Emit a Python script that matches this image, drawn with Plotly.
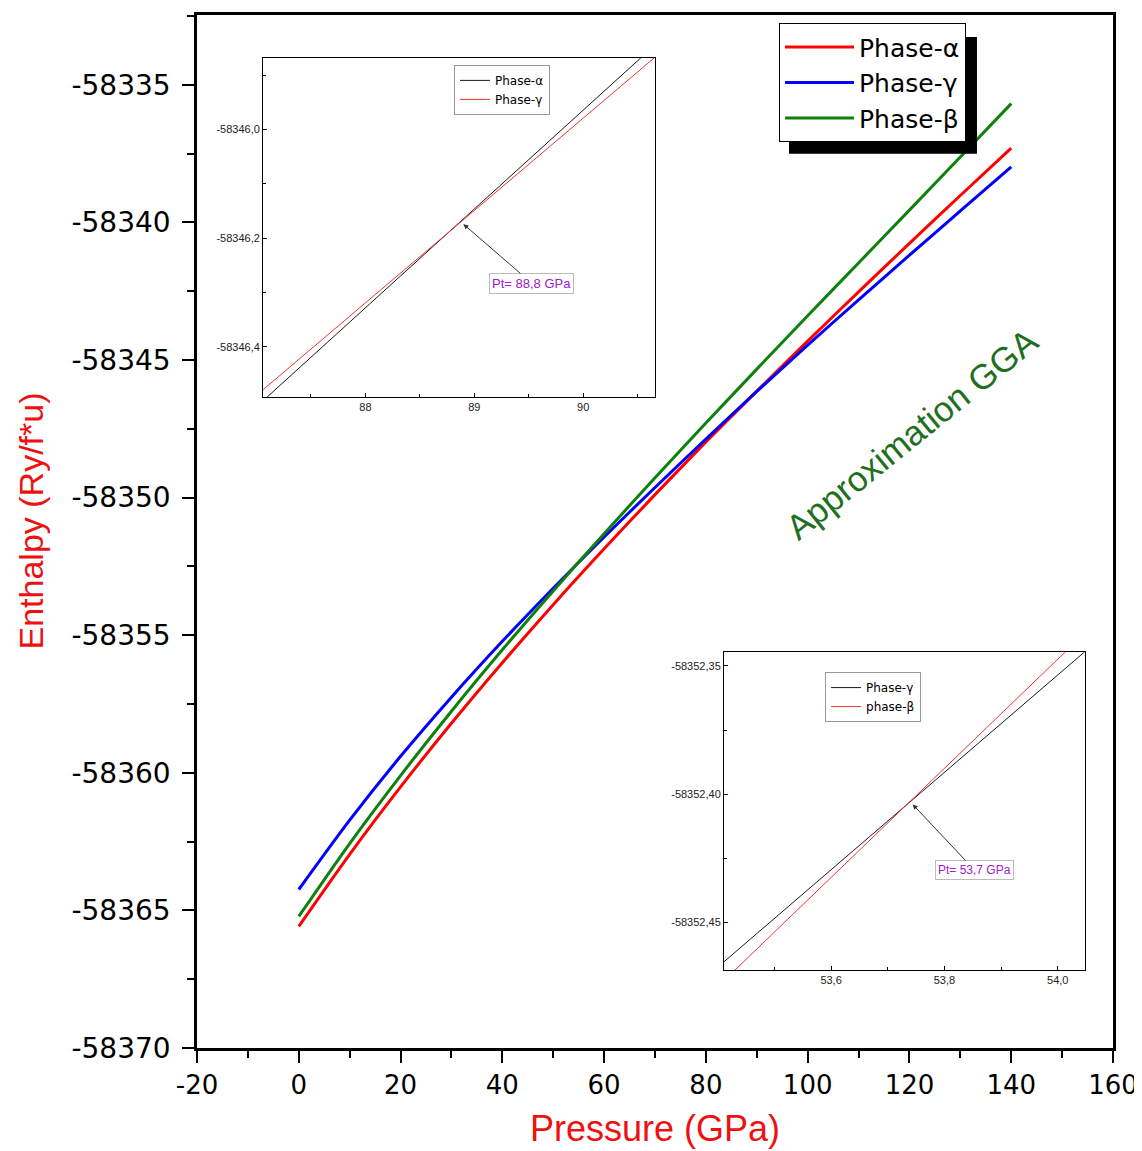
import plotly.graph_objects as go

# ---------------- data ----------------
pressure = [0, 10, 20, 30, 40, 50, 60, 70, 80, 90, 100, 110, 120, 130, 140]
h_alpha = [-58365.58, -58362.96, -58360.51, -58358.20, -58356.00, -58353.89, -58351.86,
           -58349.89, -58347.98, -58346.13, -58344.31, -58342.52, -58340.76, -58339.02, -58337.30]
h_gamma = [-58364.24, -58361.72, -58359.40, -58357.25, -58355.22, -58353.29, -58351.43,
           -58349.63, -58347.87, -58346.14, -58344.46, -58342.81, -58341.19, -58339.58, -58337.98]
h_beta = [-58365.22, -58362.57, -58360.10, -58357.76, -58355.53, -58353.39, -58351.31,
          -58349.28, -58347.29, -58345.33, -58343.39, -58341.47, -58339.55, -58337.62, -58335.68]

# inset 1 : alpha / gamma crossing
p_in1 = [87.0, 87.5, 88.0, 88.5, 89.0, 89.5, 90.0, 90.5, 90.7]
h_in1_alpha = [-58346.510, -58346.419, -58346.328, -58346.237, -58346.146,
               -58346.055, -58345.964, -58345.873, -58345.837]
h_in1_gamma = [-58346.489, -58346.404, -58346.319, -58346.234, -58346.149,
               -58346.064, -58345.979, -58345.894, -58345.860]

# inset 2 : gamma / beta crossing
p_in2 = [53.40, 53.50, 53.60, 53.70, 53.80, 53.90, 54.00, 54.05]
h_in2_gamma = [-58352.4675, -58352.4485, -58352.4295, -58352.4105,
               -58352.3915, -58352.3725, -58352.3535, -58352.3440]
h_in2_beta = [-58352.4751, -58352.4538, -58352.4325, -58352.4112,
              -58352.3899, -58352.3686, -58352.3473, -58352.3367]

x_ticks = [-20, 0, 20, 40, 60, 80, 100, 120, 140, 160]
y_ticks = [-58370, -58365, -58360, -58355, -58350, -58345, -58340, -58335]
in1_xticks = [88, 89, 90]
in1_xtext = ["88", "89", "90"]
in1_yticks = [-58346.4, -58346.2, -58346.0]
in1_ytext = ["-58346,4", "-58346,2", "-58346,0"]
in2_xticks = [53.6, 53.8, 54.0]
in2_xtext = ["53,6", "53,8", "54,0"]
in2_yticks = [-58352.45, -58352.40, -58352.35]
in2_ytext = ["-58352,45", "-58352,40", "-58352,35"]

FONT = "Arial, Liberation Sans, sans-serif"
WIDE = "DejaVu Sans, Arial, sans-serif"
RED, BLUE, GREEN = "#ff0000", "#0000ff", "#0d800d"

fig = go.Figure()
for name, ys, col in [("Phase-α", h_alpha, RED), ("Phase-γ", h_gamma, BLUE), ("Phase-β", h_beta, GREEN)]:
    fig.add_trace(go.Scatter(x=pressure, y=ys, mode="lines", name=name,
                             line=dict(color=col, width=3, shape="spline", smoothing=0.8),
                             xaxis="x", yaxis="y", legend="legend"))

fig.add_trace(go.Scatter(x=p_in1, y=h_in1_alpha, mode="lines", name="Phase-α",
                         line=dict(color="#1a1a1a", width=1), xaxis="x2", yaxis="y2", legend="legend2"))
fig.add_trace(go.Scatter(x=p_in1, y=h_in1_gamma, mode="lines", name="Phase-γ",
                         line=dict(color="#ee3333", width=1), xaxis="x2", yaxis="y2", legend="legend2"))
fig.add_trace(go.Scatter(x=p_in2, y=h_in2_gamma, mode="lines", name="Phase-γ",
                         line=dict(color="#1a1a1a", width=1), xaxis="x3", yaxis="y3", legend="legend3"))
fig.add_trace(go.Scatter(x=p_in2, y=h_in2_beta, mode="lines", name="phase-β",
                         line=dict(color="#ee3333", width=1), xaxis="x3", yaxis="y3", legend="legend3"))

main_ax = dict(showgrid=False, zeroline=False, showline=True, linecolor="black", linewidth=2.5,
               mirror=True, ticks="outside", ticklen=12, tickwidth=2, tickcolor="black")
inset_ax = dict(showgrid=False, zeroline=False, showline=True, linecolor="black", linewidth=1,
                mirror=True, ticks="inside", ticklen=4, tickwidth=1, tickcolor="black",
                tickfont=dict(family=FONT, size=11, color="#222222"))

fig.update_layout(
    width=1134, height=1143,
    margin=dict(l=189, r=29, t=4, b=103, pad=0),
    paper_bgcolor="white", plot_bgcolor="white",
    font=dict(family=FONT),
    xaxis=dict(main_ax, range=[-20, 160], tickvals=x_ticks, ticktext=[str(v) for v in x_ticks],
               tickfont=dict(family=WIDE, size=26, color="black"),
               minor=dict(dtick=10, tick0=0, ticks="outside", ticklen=7, tickwidth=2, tickcolor="black"),
               domain=[0, 1], anchor="y"),
    yaxis=dict(main_ax, range=[-58370, -58332.46], tickvals=y_ticks, ticktext=[str(v) for v in y_ticks],
               tickfont=dict(family=WIDE, size=28, color="black"), ticklabelstandoff=6,
               minor=dict(dtick=2.5, tick0=-58370, ticks="outside", ticklen=7, tickwidth=2, tickcolor="black"),
               domain=[0, 1], anchor="x"),
    xaxis2=dict(inset_ax, range=[87.06, 90.66], tickvals=in1_xticks, ticktext=in1_xtext,
                minor=dict(dtick=0.5, tick0=87.5, ticks="inside", ticklen=3, tickwidth=1, tickcolor="black"),
                domain=[0.0721, 0.5], anchor="y2"),
    yaxis2=dict(inset_ax, range=[-58346.492, -58345.868], tickvals=in1_yticks, ticktext=in1_ytext,
                minor=dict(dtick=0.1, tick0=-58346.5, ticks="inside", ticklen=3, tickwidth=1, tickcolor="black"),
                domain=[0.6303, 0.9585], anchor="x2"),
    xaxis3=dict(inset_ax, range=[53.411, 54.048], tickvals=in2_xticks, ticktext=in2_xtext,
                minor=dict(dtick=0.1, tick0=53.5, ticks="inside", ticklen=3, tickwidth=1, tickcolor="black"),
                domain=[0.5753, 0.9694], anchor="y3"),
    yaxis3=dict(inset_ax, range=[-58352.4687, -58352.3446], tickvals=in2_yticks, ticktext=in2_ytext,
                minor=dict(dtick=0.025, tick0=-58352.475, ticks="inside", ticklen=3, tickwidth=1, tickcolor="black"),
                domain=[0.0753, 0.3832], anchor="x3"),
    legend=dict(x=0.6354, y=0.992, xanchor="left", yanchor="top", bgcolor="white",
                bordercolor="black", borderwidth=1, itemwidth=69, tracegroupgap=0,
                font=dict(family=WIDE, size=25, color="black")),
    legend2=dict(x=0.2806, y=0.9517, xanchor="left", yanchor="top", bgcolor="white",
                 bordercolor="#999999", borderwidth=1,
                 font=dict(family=WIDE, size=12, color="black")),
    legend3=dict(x=0.6856, y=0.3639, xanchor="left", yanchor="top", bgcolor="white",
                 bordercolor="#999999", borderwidth=1,
                 font=dict(family=WIDE, size=12, color="black")),
    shapes=[dict(type="rect", xref="paper", yref="paper", x0=0.6463, x1=0.8515, y0=0.8658, y1=0.9788,
                 fillcolor="black", line=dict(width=0), layer="above")],
    annotations=[
        dict(text="Pressure (GPa)", xref="paper", yref="paper", x=0.5, y=-0.0775,
             xanchor="center", yanchor="middle", showarrow=False,
             font=dict(family=FONT, size=36, color="#ee1111")),
        dict(text="Enthalpy (Ry/f*u)", xref="paper", yref="paper", x=-0.1812, y=0.5097,
             xanchor="center", yanchor="middle", textangle=-90, showarrow=False,
             font=dict(family=FONT, size=34, color="#ee1111")),
        dict(text="Approximation GGA", xref="paper", yref="paper", x=0.7806, y=0.5946,
             xanchor="center", yanchor="middle", textangle=-39, showarrow=False,
             font=dict(family=FONT, size=35, color="#1f6f1f")),
        dict(text="Pt= 88,8 GPa", xref="x2", yref="y2", x=88.9, y=-58346.174,
             axref="x2", ayref="y2", ax=89.53, ay=-58346.283,
             showarrow=True, arrowhead=2, arrowsize=1, arrowwidth=1, arrowcolor="#333333",
             bgcolor="white", bordercolor="#bbbbbb", borderwidth=1, borderpad=2,
             font=dict(family=FONT, size=13, color="#a020c8")),
        dict(text="Pt= 53,7 GPa", xref="x3", yref="y3", x=53.744, y=-58352.404,
             axref="x3", ayref="y3", ax=53.853, ay=-58352.4296,
             showarrow=True, arrowhead=2, arrowsize=1, arrowwidth=1, arrowcolor="#333333",
             bgcolor="white", bordercolor="#bbbbbb", borderwidth=1, borderpad=2,
             font=dict(family=FONT, size=12, color="#a020c8")),
    ],
)

fig.write_html("out.html")
